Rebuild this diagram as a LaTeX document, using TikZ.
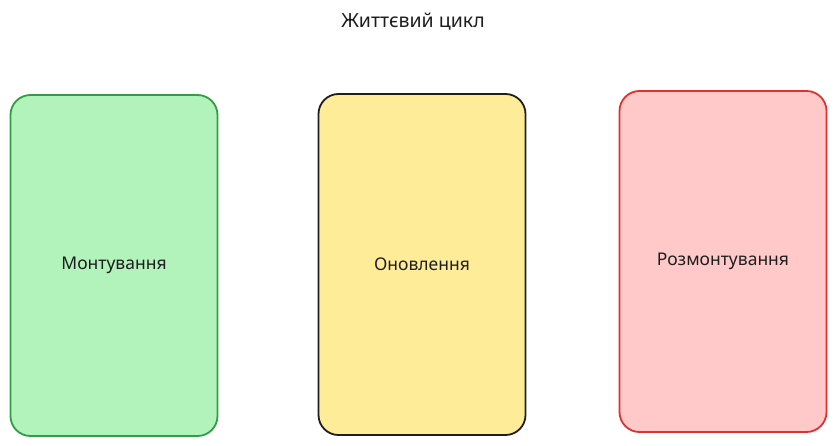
\documentclass[tikz,border=0pt]{standalone}
\usepackage{fontspec}
\setmainfont{Noto Sans}
\definecolor{gfill}{HTML}{B2F2BB}
\definecolor{gline}{HTML}{2F9E44}
\definecolor{yfill}{HTML}{FFEC99}
\definecolor{yline}{HTML}{1E1E1E}
\definecolor{rfill}{HTML}{FFC9C9}
\definecolor{rline}{HTML}{E03131}
\definecolor{txt}{HTML}{1E1E1E}
\begin{document}
\begin{tikzpicture}[x=1pt,y=-1pt,
  phase/.style={rounded corners=20pt,line width=1.8pt,minimum width=207pt,minimum height=341pt,inner sep=0pt,font=\fontsize{17.5}{20}\selectfont,text=txt},
  title/.style={font=\fontsize{19.5}{22}\selectfont,text=txt}]
\useasboundingbox (0,0) rectangle (837,446);
\node[title] (t) at (413,22) {Життєвий цикл};
\node[phase,draw=gline,fill=gfill] (m) at (114,265.5) {Монтування};
\node[phase,draw=yline,fill=yfill] (o) at (422,264.5) {Оновлення};
\node[phase,draw=rline,fill=rfill] (r) at (723,261.5) {Розмонтування};
\end{tikzpicture}
\end{document}
